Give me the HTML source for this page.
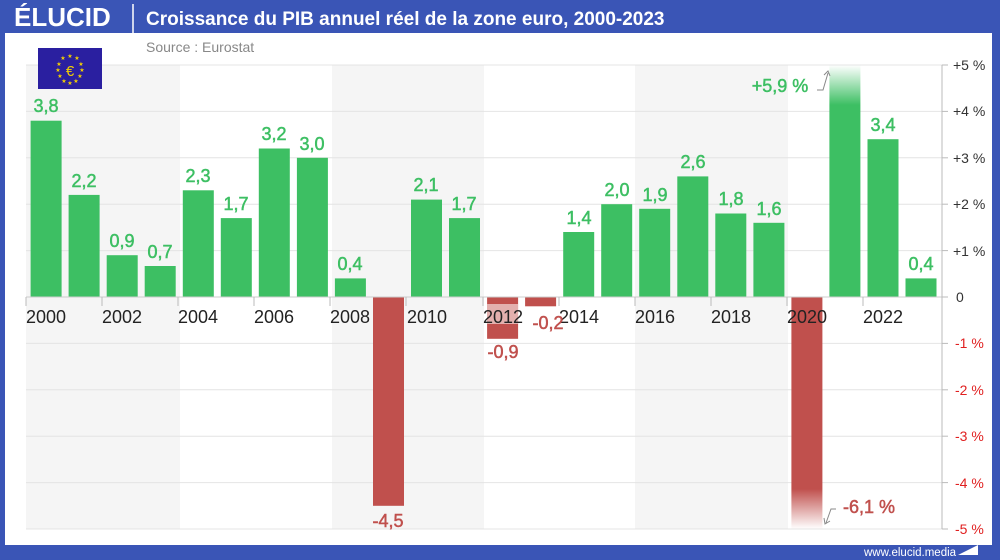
<!DOCTYPE html>
<html><head><meta charset="utf-8"><style>
html,body{margin:0;padding:0;width:1000px;height:560px;overflow:hidden;background:#fff}
svg{display:block;font-family:"Liberation Sans",sans-serif}
</style></head><body>
<svg width="1000" height="560" viewBox="0 0 1000 560" xmlns="http://www.w3.org/2000/svg">
<defs>
<linearGradient id="gup" x1="0" y1="0" x2="0" y2="1"><stop offset="0" stop-color="#3dbf63" stop-opacity="0"/><stop offset="1" stop-color="#3dbf63"/></linearGradient>
<linearGradient id="gdn" x1="0" y1="0" x2="0" y2="1"><stop offset="0" stop-color="#c0504d"/><stop offset="1" stop-color="#c0504d" stop-opacity="0"/></linearGradient>
</defs>
<rect width="1000" height="560" fill="#3a55b6"/>
<rect x="5" y="33" width="987" height="512" fill="#fff"/>
<!-- header -->
<text x="14" y="26" font-size="26" font-weight="bold" fill="#fff">ÉLUCID</text>
<line x1="133" y1="4" x2="133" y2="33" stroke="#fff" stroke-width="1.5"/>
<text x="146" y="25" font-size="19" font-weight="bold" fill="#fff">Croissance du PIB annuel réel de la zone euro, 2000-2023</text>
<text x="146" y="52" font-size="14" fill="#888">Source : Eurostat</text>
<!-- bands -->
<rect x="26" y="65" width="154" height="464" fill="#f5f5f5"/>
<rect x="332" y="65" width="152" height="464" fill="#f5f5f5"/>
<rect x="635" y="65" width="153" height="464" fill="#f5f5f5"/>
<!-- grid -->
<g stroke="#e4e4e4" stroke-width="1">
<line x1="26" y1="65" x2="942" y2="65"/><line x1="26" y1="111.4" x2="942" y2="111.4"/><line x1="26" y1="157.8" x2="942" y2="157.8"/><line x1="26" y1="204.2" x2="942" y2="204.2"/><line x1="26" y1="250.6" x2="942" y2="250.6"/>
<line x1="26" y1="343.4" x2="942" y2="343.4"/><line x1="26" y1="389.8" x2="942" y2="389.8"/><line x1="26" y1="436.2" x2="942" y2="436.2"/><line x1="26" y1="482.6" x2="942" y2="482.6"/><line x1="26" y1="529" x2="942" y2="529"/>
</g>
<!-- flag -->
<rect x="38" y="48" width="64" height="41" fill="#2a1fa0"/>
<g fill="#f4d000" font-size="6" text-anchor="middle">
<text x="70" y="58">★</text><text x="77" y="60">★</text><text x="81" y="66">★</text><text x="82" y="72">★</text><text x="80" y="78">★</text><text x="76" y="83">★</text><text x="70" y="85">★</text><text x="64" y="83">★</text><text x="60" y="78">★</text><text x="58" y="72">★</text><text x="59" y="66">★</text><text x="63" y="60">★</text>
</g>
<text x="70" y="76" font-size="15" fill="#f4d000" text-anchor="middle">€</text>
<!-- bars -->
<g fill="#3dbf63">
<rect x="30.6" y="120.7" width="31" height="176.3"/>
<rect x="68.6" y="194.9" width="31" height="102.1"/>
<rect x="106.7" y="255.2" width="31" height="41.8"/>
<rect x="144.7" y="266" width="31" height="31"/>
<rect x="182.8" y="190.3" width="31" height="106.7"/>
<rect x="220.8" y="218.1" width="31" height="78.9"/>
<rect x="258.8" y="148.5" width="31" height="148.5"/>
<rect x="296.9" y="157.8" width="31" height="139.2"/>
<rect x="334.9" y="278.4" width="31" height="18.6"/>
<rect x="411" y="199.6" width="31" height="97.4"/>
<rect x="449" y="218.1" width="31" height="78.9"/>
<rect x="563.2" y="232" width="31" height="65"/>
<rect x="601.2" y="204.2" width="31" height="92.8"/>
<rect x="639.2" y="208.8" width="31" height="88.2"/>
<rect x="677.3" y="176.4" width="31" height="120.6"/>
<rect x="715.3" y="213.5" width="31" height="83.5"/>
<rect x="753.4" y="222.8" width="31" height="74.2"/>
<rect x="829.4" y="105" width="31" height="192"/>
<rect x="867.5" y="139.2" width="31" height="157.8"/>
<rect x="905.5" y="278.4" width="31" height="18.6"/>
</g>
<rect x="829.4" y="65" width="31" height="40" fill="url(#gup)"/>
<g fill="#c0504d">
<rect x="373" y="297" width="31" height="208.8"/>
<rect x="487.1" y="297" width="31" height="41.8"/>
<rect x="525.1" y="297" width="31" height="9.3"/>
<rect x="791.4" y="297" width="31" height="192"/>
</g>
<rect x="791.4" y="489" width="31" height="40" fill="url(#gdn)"/>
<!-- zero axis & ticks -->
<line x1="26" y1="297" x2="942" y2="297" stroke="#ccc"/>
<g stroke="#bbb">
<line x1="26" y1="297" x2="26" y2="306"/><line x1="102" y1="297" x2="102" y2="306"/><line x1="178" y1="297" x2="178" y2="306"/><line x1="254" y1="297" x2="254" y2="306"/><line x1="330" y1="297" x2="330" y2="306"/><line x1="406" y1="297" x2="406" y2="306"/><line x1="483" y1="297" x2="483" y2="306"/><line x1="559" y1="297" x2="559" y2="306"/><line x1="635" y1="297" x2="635" y2="306"/><line x1="711" y1="297" x2="711" y2="306"/><line x1="787" y1="297" x2="787" y2="306"/><line x1="863" y1="297" x2="863" y2="306"/>
</g>
<!-- year labels -->
<rect x="487.1" y="304" width="31" height="20" fill="#fff" opacity="0.55"/>
<g font-size="18" fill="#222" text-anchor="middle">
<text x="46" y="323">2000</text><text x="122" y="323">2002</text><text x="198" y="323">2004</text><text x="274" y="323">2006</text><text x="350" y="323">2008</text><text x="427" y="323">2010</text><text x="503" y="323">2012</text><text x="579" y="323">2014</text><text x="655" y="323">2016</text><text x="731" y="323">2018</text><text x="807" y="323">2020</text><text x="883" y="323">2022</text>
</g>
<!-- value labels -->
<g font-size="18" fill="#3dbf63" stroke="#3dbf63" stroke-width="0.5" text-anchor="middle">
<text x="46" y="112">3,8</text><text x="84" y="187">2,2</text><text x="122" y="247">0,9</text><text x="160" y="258">0,7</text><text x="198" y="182">2,3</text><text x="236" y="210">1,7</text><text x="274" y="140">3,2</text><text x="312" y="150">3,0</text><text x="350" y="270">0,4</text><text x="426" y="191">2,1</text><text x="464" y="210">1,7</text><text x="579" y="224">1,4</text><text x="617" y="196">2,0</text><text x="655" y="201">1,9</text><text x="693" y="168">2,6</text><text x="731" y="205">1,8</text><text x="769" y="215">1,6</text><text x="883" y="131">3,4</text><text x="921" y="270">0,4</text>
<text x="780" y="92">+5,9 %</text>
</g>
<g font-size="18" fill="#c0504d" stroke="#c0504d" stroke-width="0.5" text-anchor="middle">
<text x="388" y="527">-4,5</text><text x="503" y="358">-0,9</text><text x="548" y="329">-0,2</text>
<text x="869" y="513">-6,1 %</text>
</g>
<path d="M817,90 L823,90 L828,73 M824,75 L828,71 L830,76" fill="none" stroke="#888" stroke-width="1"/>
<path d="M836,509 L831,509 L826,523 M824,518 L825,524 L830,521" fill="none" stroke="#888" stroke-width="1"/>
<!-- right axis -->
<line x1="942" y1="65" x2="942" y2="529" stroke="#bbb"/>
<g stroke="#bbb">
<line x1="942" y1="65" x2="948" y2="65"/><line x1="942" y1="111.4" x2="948" y2="111.4"/><line x1="942" y1="157.8" x2="948" y2="157.8"/><line x1="942" y1="204.2" x2="948" y2="204.2"/><line x1="942" y1="250.6" x2="948" y2="250.6"/><line x1="942" y1="297" x2="948" y2="297"/><line x1="942" y1="343.4" x2="948" y2="343.4"/><line x1="942" y1="389.8" x2="948" y2="389.8"/><line x1="942" y1="436.2" x2="948" y2="436.2"/><line x1="942" y1="482.6" x2="948" y2="482.6"/><line x1="942" y1="529" x2="948" y2="529"/>
</g>
<g font-size="14" fill="#333">
<text x="953" y="70">+5 %</text><text x="953" y="116">+4 %</text><text x="953" y="163">+3 %</text><text x="953" y="209">+2 %</text><text x="953" y="256">+1 %</text><text x="956" y="302">0</text>
</g>
<g font-size="14" fill="#e02020">
<text x="955" y="348">-1 %</text><text x="955" y="395">-2 %</text><text x="955" y="441">-3 %</text><text x="955" y="488">-4 %</text><text x="955" y="534">-5 %</text>
</g>
<!-- footer -->
<text x="864" y="556" font-size="11.5" fill="#fff">www.elucid.media</text>
<polygon points="958,555 978,545 978,555" fill="#fff"/>
</svg>
</body></html>
